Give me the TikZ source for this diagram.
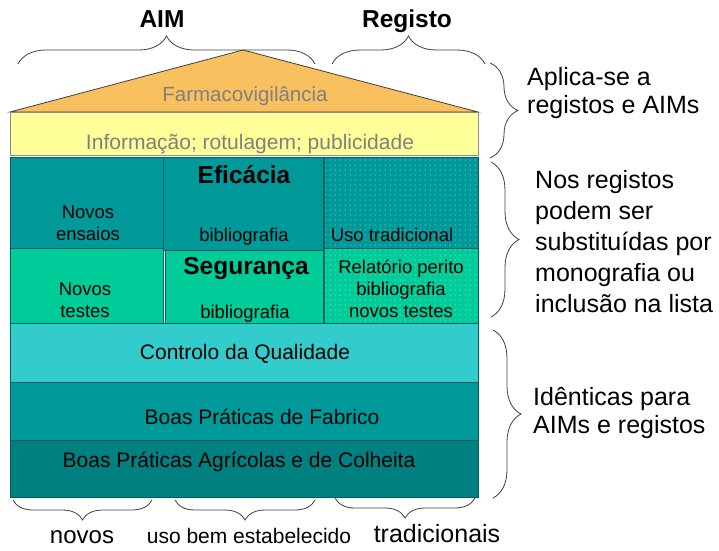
\documentclass[tikz,border=0pt]{standalone}
\usepackage{fontspec}
\setmainfont{Liberation Sans}
\usepackage{xcolor}
\usepackage{tikz}
\usetikzlibrary{decorations.pathreplacing, patterns.meta}

\definecolor{roofOrange}{HTML}{F9C05F}
\definecolor{infoYellow}{HTML}{FFFF99}
\definecolor{tealMid}{HTML}{009999}
\definecolor{seaGreen}{HTML}{00CC99}
\definecolor{lightTeal}{HTML}{33CCCC}
\definecolor{darkTeal}{HTML}{008080}
\definecolor{edgeTeal}{HTML}{005F5F}
\definecolor{softGray}{HTML}{808080}

\newcommand{\fsz}[2]{\fontsize{#1}{#2}\selectfont}

\begin{document}
\begin{tikzpicture}[
        x=1pt, y=-1pt,
        cell/.style={draw=edgeTeal, line width=0.8pt, anchor=north west, inner sep=0pt, outer sep=0pt},
        band/.style={cell, minimum width=468pt},
        dotcell/.style={postaction={pattern={Dots[distance=5pt, radius=0.5pt]}, pattern color=white!85!tealMid}},
        lbl/.style={anchor=base, inner sep=0pt, font=\fsz{18.5}{22}},
        bandlbl/.style={anchor=base, inner sep=0pt, font=\fsz{21}{25}},
        head/.style={anchor=base, inner sep=0pt, font=\bfseries\fsz{24.5}{29}},
        note/.style={anchor=base west, inner sep=0pt, font=\fsz{25}{30}},
        foot/.style={anchor=base, inner sep=0pt},
        curly/.style={draw=black!75, line width=0.8pt, decorate, decoration={brace, amplitude=#1}}
    ]
        \useasboundingbox (0,0) rectangle (719,550);

        % Roof
        \coordinate (roofL) at (10,112);
        \coordinate (roofT) at (243,50);
        \coordinate (roofR) at (478,112);
        \draw[fill=roofOrange, draw=black!75, line width=0.8pt] (roofL) -- (roofT) -- (roofR) -- cycle;
        \node[anchor=base, inner sep=0pt, text=softGray, font=\fsz{20.5}{24}] (farma) at (245,101) {Farmacovigilância};

        % Information layer
        \node[band, draw=black!45, fill=infoYellow, minimum height=43pt] (info) at (10,112) {};
        \node[anchor=base, inner sep=0pt, text=softGray, font=\fsz{21}{25}] (infolbl) at (250,149) {Informação; rotulagem; publicidade};

        % Efficacy and safety cells
        \node[cell, fill=tealMid, minimum width=153pt, minimum height=91pt] (ensaios) at (10,157) {};
        \node[cell, fill=tealMid, minimum width=160pt, minimum height=93pt] (efic) at (163,157) {};
        \node[cell, fill=tealMid, dotcell, minimum width=154pt, minimum height=91pt] (usotrad) at (324,157) {};
        \node[cell, fill=seaGreen, minimum width=153pt, minimum height=75pt] (testes) at (10,248) {};
        \node[cell, fill=seaGreen, minimum width=158pt, minimum height=73pt] (segur) at (165,250) {};
        \node[cell, fill=seaGreen, dotcell, minimum width=154pt, minimum height=75pt] (relat) at (324,248) {};

        \foreach \ln [count=\i from 0] in {Novos, ensaios}
            \node[lbl] at (88,218+22*\i) {\ln};
        \node[head] (eficlbl) at (244,183) {Eficácia};
        \node[lbl] (eficbib) at (244,241) {bibliografia};
        \node[lbl] (usolbl) at (392,241) {Uso tradicional};
        \foreach \ln [count=\i from 0] in {Novos, testes}
            \node[lbl] at (85,295+22*\i) {\ln};
        \node[head] (segurlbl) at (246,274) {Segurança};
        \node[lbl] (segurbib) at (245,318) {bibliografia};
        \foreach \ln [count=\i from 0] in {Relatório perito, bibliografia, novos testes}
            \node[lbl] at (401,273+22*\i) {\ln};

        % Common layers
        \node[band, fill=lightTeal, minimum height=59pt] (qual) at (10,323) {};
        \node[band, fill=tealMid, minimum height=58pt] (fabrico) at (10,382) {};
        \node[band, fill=darkTeal, minimum height=57pt] (agric) at (10,440) {};
        \node[bandlbl] (quallbl) at (245,359) {Controlo da Qualidade};
        \node[bandlbl] (fabricolbl) at (262,424) {Boas Práticas de Fabrico};
        \node[bandlbl] (agriclbl) at (239,467) {Boas Práticas Agrícolas e de Colheita};

        % Top braces
        \draw[curly=28pt] (18,64) -- (315,64);
        \draw[curly=28pt] (332,64) -- (485,64);
        \node[head] (aim) at (162,27) {AIM};
        \node[head] (registo) at (407,27) {Registo};

        % Bottom braces
        \draw[curly=20pt] (152,500) -- (13,500);
        \draw[curly=20pt] (315,500) -- (175,500);
        \draw[curly=20pt] (475,498) -- (335,498);
        \node[foot, font=\fsz{24}{28}] (novos) at (82,543) {novos};
        \node[foot, font=\fsz{21}{25}] (usobem) at (249,543) {uso bem estabelecido};
        \node[foot, font=\fsz{25}{30}] (tradic) at (437,542) {tradicionais};

        % Right braces and notes
        \draw[curly=28pt] (490,63) -- (490,158);
        \draw[curly=28pt] (491,162) -- (491,317);
        \draw[curly=28pt] (493,330) -- (493,498);
        \foreach \ln [count=\i from 0] in {Aplica-se a, registos e AIMs}
            \node[note] at (527,85+28*\i) {\ln};
        \foreach \ln [count=\i from 0] in {Nos registos, podem ser, substituídas por, monografia ou, inclusão na lista}
            \node[note] at (535,188+31*\i) {\ln};
        \foreach \ln [count=\i from 0] in {Idênticas para, AIMs e registos}
            \node[note] at (533,405+28*\i) {\ln};
    \end{tikzpicture}
\end{document}
